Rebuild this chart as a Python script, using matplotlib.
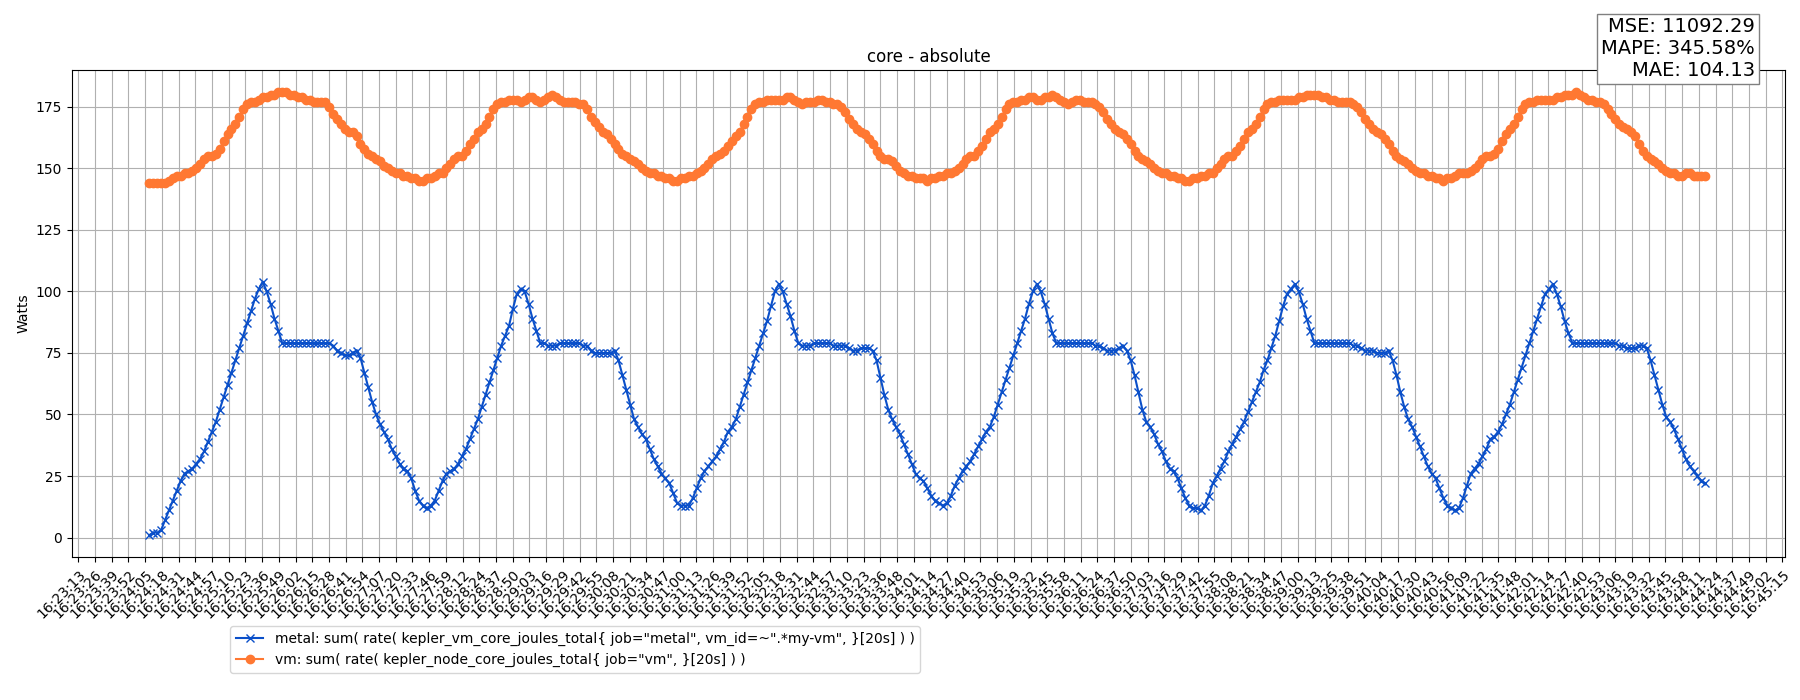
import matplotlib
matplotlib.use("Agg")
import matplotlib.pyplot as plt
import matplotlib.dates as mdates
import numpy as np
import pandas as pd

# sampled every ~3 s starting 16:24:09
start_time = "2024-01-01 16:24:09"
step = "3033ms"

# metal series (Watts), written cycle by cycle
metal_c0 = [1, 2, 2, 3, 7, 11, 15, 19, 23, 26, 27, 28, 30, 32, 35, 39, 43, 47, 52, 57,
            62, 67, 72, 77, 82, 87, 92, 97, 101]
metal_c1 = [104, 100, 95, 89, 84, 79, 79, 79, 79, 79, 79, 79, 79, 79, 79, 79, 79, 79,
            78, 76, 75, 74, 74, 75, 76, 73, 67, 61, 55, 50, 46, 43, 40, 36, 33, 30, 28, 27, 24, 19, 15, 13, 12,
            13, 15, 19, 23, 26, 27, 28, 30, 33, 36, 40, 44, 48, 53, 58, 63, 68, 73, 78, 82, 86, 93, 99]
metal_c2 = [101, 100, 95, 89, 84, 79, 79, 78, 78, 78, 79, 79, 79, 79, 79, 79, 78, 78,
            76, 75, 75, 75, 75, 75, 76, 72, 66, 60, 54, 48, 45, 42, 40, 36, 32, 29, 26, 24, 22, 18, 14, 13, 13,
            13, 16, 20, 24, 27, 29, 31, 33, 36, 39, 43, 45, 48, 53, 58, 63, 68, 73, 78, 83, 88, 94, 100]
metal_c3 = [103, 100, 95, 90, 84, 79, 78, 78, 78, 79, 79, 79, 79, 79, 78, 78, 78, 78,
            77, 76, 76, 77, 77, 77, 76, 72, 65, 58, 52, 48, 45, 42, 38, 34, 30, 26, 24, 23, 20, 17, 15, 14, 13,
            14, 17, 21, 24, 27, 29, 31, 34, 37, 40, 43, 45, 49, 54, 59, 64, 69, 74, 79, 84, 89, 95, 100]
metal_c4 = [103, 100, 95, 89, 83, 79, 79, 79, 79, 79, 79, 79, 79, 79, 79, 78, 78, 77,
            76, 76, 76, 77, 78, 76, 72, 66, 59, 52, 47, 45, 42, 38, 35, 31, 28, 27, 24, 20, 16, 13, 12, 12, 11,
            13, 17, 22, 25, 28, 31, 35, 38, 41, 44, 47, 51, 55, 59, 63, 68, 72, 77, 82, 88, 94, 99, 101]
metal_c5 = [103, 100, 95, 89, 84, 79, 79, 79, 79, 79, 79, 79, 79, 79, 79, 78, 78, 77,
            76, 76, 76, 75, 75, 75, 76, 72, 66, 59, 53, 48, 45, 41, 37, 33, 29, 26, 24, 20, 16, 13, 12, 11, 12,
            16, 21, 26, 28, 30, 33, 36, 40, 41, 43, 46, 50, 54, 59, 64, 69, 74, 79, 84, 89, 94, 99, 101]
metal_c6 = [103, 99, 94, 88, 83, 79, 79, 79, 79, 79, 79, 79, 79, 79, 79, 79, 79, 78,
            78, 77, 77, 77, 78, 78, 77, 72, 66, 60, 54, 49, 47, 44, 40, 36, 32, 29, 27, 25, 23, 22]

# vm series (Watts)
vm_c0 = [144, 144, 144, 144, 144, 145, 146, 147, 147, 148, 148, 149, 150, 152, 154, 155, 155, 156, 158, 161,
         164, 166, 168, 171, 174, 176, 177, 177, 178]
vm_c1 = [179, 179, 180, 180, 181, 181, 181, 180, 180, 179, 179, 178, 178, 177, 177, 177, 177, 175,
         172, 170, 168, 166, 165, 165, 163, 160, 158, 156, 155, 154, 153, 151, 150, 149, 148, 148, 147, 147, 146, 146, 145, 145, 146,
         146, 147, 148, 148, 150, 152, 154, 155, 155, 157, 160, 162, 165, 166, 168, 171, 174, 176, 177, 177, 178, 178, 178]
vm_c2 = [177, 178, 179, 179, 178, 177, 178, 179, 180, 179, 178, 177, 177, 177, 177, 176, 176, 174,
         171, 169, 167, 165, 164, 162, 160, 158, 156, 155, 154, 153, 152, 150, 149, 148, 148, 147, 147, 146, 146, 145, 145, 146, 146,
         147, 147, 148, 149, 150, 152, 154, 155, 156, 157, 159, 161, 163, 165, 168, 171, 174, 176, 177, 177, 178, 178, 178]
vm_c3 = [178, 178, 179, 179, 178, 177, 176, 177, 177, 177, 178, 178, 177, 177, 176, 176, 175, 173,
         170, 168, 166, 165, 164, 162, 160, 157, 155, 154, 154, 153, 151, 149, 148, 147, 147, 146, 146, 146, 145, 146, 146, 147, 147,
         148, 148, 149, 150, 152, 154, 155, 155, 157, 159, 162, 165, 166, 168, 171, 174, 176, 177, 177, 178, 178, 179, 179]
vm_c4 = [178, 178, 179, 179, 180, 179, 178, 177, 176, 177, 178, 178, 177, 177, 177, 176, 175, 173,
         170, 168, 166, 165, 164, 162, 160, 157, 155, 154, 153, 152, 150, 149, 148, 148, 147, 147, 146, 146, 145, 145, 146, 146, 147,
         147, 148, 148, 150, 152, 154, 155, 155, 157, 159, 162, 165, 166, 168, 171, 174, 176, 177, 177, 178, 178, 178, 178]
vm_c5 = [178, 179, 179, 180, 180, 180, 180, 179, 179, 178, 178, 177, 177, 177, 177, 176, 175, 173,
         170, 168, 166, 165, 164, 162, 160, 157, 155, 154, 153, 152, 150, 149, 148, 148, 147, 147, 146, 146, 145, 146, 146, 147, 148,
         148, 148, 149, 150, 152, 154, 155, 155, 156, 158, 161, 164, 166, 168, 171, 174, 176, 177, 177, 178, 178, 178, 178]
vm_c6 = [178, 179, 179, 180, 180, 180, 181, 180, 179, 178, 178, 177, 177, 176, 174, 172, 170, 168,
         167, 166, 165, 163, 160, 157, 155, 154, 153, 152, 150, 149, 148, 148, 147, 147, 148, 148, 147, 147, 147, 147]

metal = metal_c0 + metal_c1 + metal_c2 + metal_c3 + metal_c4 + metal_c5 + metal_c6
vm = vm_c0 + vm_c1 + vm_c2 + vm_c3 + vm_c4 + vm_c5 + vm_c6
n = min(len(metal), len(vm))
times = pd.date_range(start_time, periods=n, freq=step)

metal_label = 'metal: sum( rate( kepler_vm_core_joules_total{ job="metal", vm_id=~".*my-vm", }[20s] ) )'
vm_label = 'vm: sum( rate( kepler_node_core_joules_total{ job="vm", }[20s] ) )'
stats_text = "MSE: 11092.29\nMAPE: 345.58%\nMAE: 104.13"

fig = plt.figure(figsize=(18, 7), dpi=100)
ax = fig.add_axes([0.04, 0.204, 0.9517, 0.696])
ax.plot(times, metal[:n], color="#0a4fc9", marker="x", markersize=6, linewidth=1.5, label=metal_label)
ax.plot(times, vm[:n], color="#ff7832", marker="o", markersize=6, linewidth=1.5, label=vm_label)

tick_times = pd.to_datetime(np.linspace(pd.Timestamp("2024-01-01 16:23:13.94").value,
                                        pd.Timestamp("2024-01-01 16:45:15.90").value, 103))
ax.set_xticks(tick_times)
ax.xaxis.set_major_formatter(mdates.DateFormatter("%H:%M:%S"))
plt.setp(ax.get_xticklabels(), rotation=45, ha="right", rotation_mode="anchor")
ax.set_xlim(pd.Timestamp("2024-01-01 16:23:09"), pd.Timestamp("2024-01-01 16:45:18"))
ax.set_yticks([0, 25, 50, 75, 100, 125, 150, 175])
ax.grid(True, color="#b0b0b0")
ax.set_ylabel("Watts")
ax.set_title("core - absolute")

fig.legend(loc="upper left", bbox_to_anchor=(0.124, 0.115))
fig.text(0.975, 0.975, stats_text, ha="right", va="top", fontsize=14, multialignment="right",
         bbox=dict(facecolor="white", edgecolor="gray", boxstyle="square,pad=0.2"))

fig.savefig("out.png")
